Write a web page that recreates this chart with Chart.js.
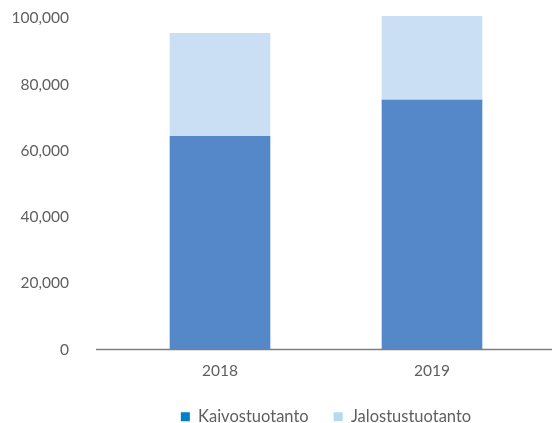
<!DOCTYPE html>
<html>
<head>
<meta charset="utf-8">
<script src="https://cdn.jsdelivr.net/npm/chart.js@4"></script>
<style>
  html, body { margin: 0; padding: 0; background: #fff; }
  #wrap { width: 552px; height: 423px; }
</style>
</head>
<body>
<div id="wrap"><canvas id="chart"></canvas></div>
<script>
// data
var years = ['2018', '2019'];
var kaivos = [64400, 75300];
var jalostus = [31100, 25300];
var yTicks = [0, 20000, 40000, 60000, 80000, 100000];

var textColor = '#5f5f5f';

// baseline goes past the left edge of the plot, like in the original
var baseline = {
    id: 'baseline',
    afterDatasetsDraw: function (chart) {
        var ctx = chart.ctx;
        var y = chart.scales.y.getPixelForValue(0);
        ctx.save();
        ctx.strokeStyle = '#7f7f7f';
        ctx.lineWidth = 1.5;
        ctx.beginPath();
        ctx.moveTo(chart.chartArea.left - 18, y);
        ctx.lineTo(chart.width, y);
        ctx.stroke();
        ctx.restore();
    }
};

var ctx = document.getElementById('chart').getContext('2d');
var chart = new Chart(ctx, {
    type: 'bar',
    data: {
        labels: years,
        datasets: [{
            label: 'Kaivostuotanto',
            data: kaivos,
            backgroundColor: '#5588c8',
            legendColor: '#0080c6',
            barThickness: 100
        }, {
            label: 'Jalostustuotanto',
            data: jalostus,
            backgroundColor: '#cadff3',
            legendColor: '#b4daf0',
            barThickness: 100
        }]
    },
    options: {
        responsive: true,
        maintainAspectRatio: false,
        animation: false,
        layout: { padding: { left: 0, right: 14, top: 15, bottom: -12 } },
        scales: {
            x: {
                stacked: true,
                grid: { display: false, drawTicks: false },
                border: { display: false },
                ticks: { color: textColor, padding: 12, font: { family: 'Lato', size: 15.5 } },
                afterFit: function (scale) { scale.height = 34; }
            },
            y: {
                stacked: true,
                min: 0,
                max: 101000,
                grid: { display: false, drawTicks: false },
                border: { display: false },
                afterBuildTicks: function (scale) {
                    scale.ticks = yTicks.map(function (v) { return { value: v }; });
                },
                ticks: {
                    color: textColor,
                    padding: 45,
                    font: { family: 'Lato', size: 15.5 },
                    callback: function (v) { return v.toLocaleString('en-US'); }
                },
                afterFit: function (scale) {
                    scale.width = 114;
                    scale.paddingTop = 8;
                    scale.paddingBottom = 8;
                }
            }
        },
        plugins: {
            tooltip: { enabled: false },
            legend: {
                position: 'bottom',
                fullSize: false,
                labels: {
                    color: textColor,
                    boxWidth: 9,
                    boxHeight: 9,
                    padding: 25,
                    font: { family: 'Lato', size: 16.5 },
                    generateLabels: function (chart) {
                        return chart.data.datasets.map(function (ds, i) {
                            return {
                                text: ds.label,
                                fillStyle: ds.legendColor,
                                strokeStyle: ds.legendColor,
                                lineWidth: 0,
                                fontColor: textColor,
                                datasetIndex: i
                            };
                        });
                    }
                }
            }
        }
    },
    plugins: [baseline]
});
</script>
</body>
</html>
